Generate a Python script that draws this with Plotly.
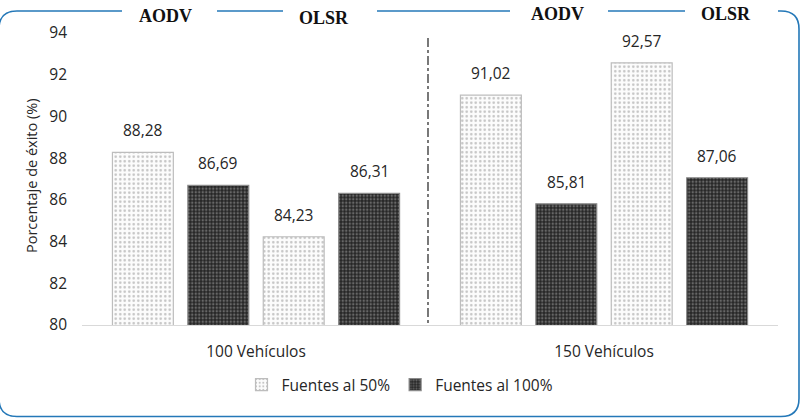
import plotly.graph_objects as go

# ---------------- data ----------------
categories = ["100 Vehículos", "150 Vehículos"]
protocols = ["AODV", "OLSR"]
series_names = ["Fuentes al 50%", "Fuentes al 100%"]
aodv_50 = [88.28, 91.02]
aodv_100 = [86.69, 85.81]
olsr_50 = [84.23, 92.57]
olsr_100 = [86.31, 87.06]
y_ticks = [80, 82, 84, 86, 88, 90, 92, 94]

# ---------------- layout geometry ----------------
W, H = 801, 418
ML, MR, MT, MB = 82, 23, 33, 93
PW, PH = W - ML - MR, H - MT - MB

def px(x):
    return (x - ML) / PW

def py(y):
    return (H - MB - y) / PH

SLOT = 0.2167
BARW = 0.175
FONT = "Open Sans"
TXT = "#262626"

# slot order inside each group: AODV 50, AODV 100, OLSR 50, OLSR 100
offs = [(-1.5 + i) * SLOT for i in range(4)]
x50, y50, x100, y100 = [], [], [], []
for ci in range(len(categories)):
    x50 += [ci + offs[0], ci + offs[2]]
    y50 += [aodv_50[ci], olsr_50[ci]]
    x100 += [ci + offs[1], ci + offs[3]]
    y100 += [aodv_100[ci], olsr_100[ci]]

fig = go.Figure()
fig.add_trace(go.Bar(
    x=x50, y=y50, width=BARW, name=series_names[0],
    marker=dict(color="#ffffff",
                pattern=dict(shape=".", bgcolor="#fcfcfc", fgcolor="#8a8a8a",
                             size=4.5, solidity=0.25),
                line=dict(color="#bdbdbd", width=1.2)),
))
fig.add_trace(go.Bar(
    x=x100, y=y100, width=BARW, name=series_names[1],
    marker=dict(color="#333333",
                pattern=dict(shape=".", bgcolor="#262626", fgcolor="#a8a8a8",
                             size=3.5, solidity=0.4),
                line=dict(color="#8a8a8a", width=1.2)),
))

annotations = []
for xs, ys in ((x50, y50), (x100, y100)):
    for xv, yv in zip(xs, ys):
        annotations.append(dict(
            x=xv, y=yv, xref="x", yref="y", text=f"{yv:.2f}".replace(".", ","),
            showarrow=False, yanchor="bottom", yshift=9,
            font=dict(family=FONT, size=15.5, color=TXT)))

# y-axis title
annotations.append(dict(
    x=px(31), y=py(176), xref="paper", yref="paper",
    xanchor="center", yanchor="middle",
    text="Porcentaje de éxito (%)", textangle=-90, showarrow=False,
    font=dict(family=FONT, size=14.5, color=TXT)))

# protocol headers on top border
hdr_pos = [(165, 16), (324, 18), (557, 14), (726, 14)]
hdr_txt = protocols * 2
for (hx, hy), t in zip(hdr_pos, hdr_txt):
    annotations.append(dict(
        x=px(hx), y=py(hy), xref="paper", yref="paper", text=f"<b>{t}</b>",
        showarrow=False, xanchor="center", yanchor="middle",
        font=dict(family="Liberation Serif", size=18, color="#111111")))

# border with gaps for headers
BC = "#2478b8"
L, R, T, B, r = -1, 799, 11, 416.5, 18

def P(x, y):
    return f"{px(x):.5f},{py(y):.5f}"

paths = [
    f"M {P(L, T + r)} Q {P(L, T)} {P(L + r, T)} L {P(122, T)}",
    f"M {P(217, T)} L {P(283, T)}",
    f"M {P(377, T)} L {P(510, T)}",
    f"M {P(608, T)} L {P(685, T)}",
    (f"M {P(778, T)} L {P(R - r, T)} Q {P(R, T)} {P(R, T + r)} L {P(R, B - r)} "
     f"Q {P(R, B)} {P(R - r, B)} L {P(L + r, B)} Q {P(L, B)} {P(L, B - r)} L {P(L, T + r)}"),
]
shapes = [dict(type="path", path=p, xref="paper", yref="paper",
               line=dict(color=BC, width=1.6)) for p in paths]

# dash-dot separator between the two groups
shapes.append(dict(type="line", xref="paper", yref="paper",
                   x0=px(428), x1=px(428), y0=py(38), y1=py(325),
                   line=dict(color="#404040", width=1.4, dash="dashdot")))

fig.update_layout(
    width=W, height=H, autosize=False,
    margin=dict(l=ML, r=MR, t=MT, b=MB),
    paper_bgcolor="white", plot_bgcolor="white",
    barmode="overlay", separators=",.",
    font=dict(family=FONT, size=15.5, color=TXT),
    showlegend=True,
    legend=dict(orientation="h", x=px(400), xanchor="center",
                y=py(385), yanchor="middle",
                font=dict(family=FONT, size=15.5, color=TXT),
                itemwidth=30, tracegroupgap=0),
    annotations=annotations, shapes=shapes,
    xaxis=dict(range=[-0.5, 1.5], tickvals=list(range(len(categories))),
               ticktext=categories, showgrid=False, zeroline=False,
               showline=True, linecolor="#d9d9d9", linewidth=1,
               ticks="", ticklabelstandoff=12,
               tickfont=dict(family=FONT, size=15.5, color=TXT)),
    yaxis=dict(range=[80, 94], tickvals=y_ticks, showgrid=False,
               zeroline=False, showline=False, ticks="",
               ticklabelstandoff=14,
               tickfont=dict(family=FONT, size=15.5, color=TXT)),
)

fig.write_html("out.html")
